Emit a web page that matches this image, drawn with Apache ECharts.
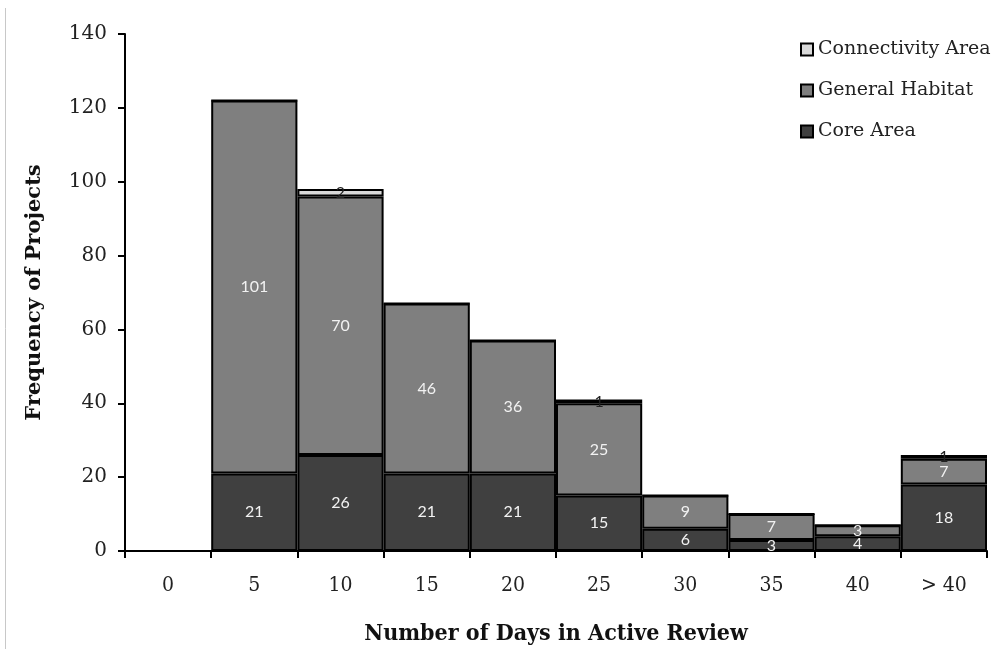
<!DOCTYPE html>
<html>
<head>
<meta charset="utf-8">
<script src="https://cdn.jsdelivr.net/npm/echarts@6/dist/echarts.min.js"></script>
<style>html,body{margin:0;padding:0;background:#fff;}#chart{width:997px;height:649px;}</style>
</head>
<body>
<div id="chart"></div>
<script>
const categories = ['0','5','10','15','20','25','30','35','40','> 40'];
const coreArea = [0,21,26,21,21,15,6,3,4,18];
const generalHabitat = [0,101,70,46,36,25,9,7,3,7];
const connectivityArea = [0,0,2,0,0,1,0,0,0,1];
const yTicks = [0,20,40,60,80,100,120,140];

const serif = '"DejaVu Serif", "Liberation Serif", serif';
const condensed = '"DejaVu Serif Condensed", "Liberation Serif", serif';
const labelFont = 'Lato, "Open Sans", sans-serif';

function mkSeries(name, data, color, labelColor) {
  return {
    name: name,
    type: 'bar',
    stack: 'total',
    data: data,
    barCategoryGap: '0%',
    itemStyle: { color: color, borderColor: '#000', borderWidth: 2 },
    label: {
      show: true,
      position: 'inside',
      color: labelColor,
      fontFamily: labelFont,
      fontSize: 16,
      formatter: p => (p.value > 0 ? String(p.value) : '')
    },
    emphasis: { disabled: true }
  };
}

const chart = echarts.init(document.getElementById('chart'), null, { renderer: 'canvas' });
chart.setOption({
  animation: false,
  backgroundColor: '#fff',
  grid: { left: 125, right: 10, top: 34, bottom: 98, containLabel: false, outerBoundsMode: 'none' },
  legend: {
    data: ['Connectivity Area', 'General Habitat', 'Core Area'],
    orient: 'vertical',
    left: 795,
    top: 35,
    itemGap: 22,
    itemWidth: 12,
    itemHeight: 12,
    icon: 'rect',
    textStyle: { fontFamily: serif, fontSize: 19, color: '#222' }
  },
  xAxis: {
    type: 'category',
    data: categories,
    boundaryGap: true,
    name: 'Number of Days in Active Review',
    nameLocation: 'middle',
    nameGap: 72,
    nameTextStyle: { fontFamily: condensed, fontWeight: 'bold', fontSize: 23, color: '#111' },
    axisLine: { lineStyle: { color: '#000', width: 2 } },
    axisTick: { show: true, alignWithLabel: false, length: 7, lineStyle: { color: '#000', width: 2 } },
    axisLabel: { fontFamily: condensed, fontSize: 21, color: '#222', margin: 24 }
  },
  yAxis: {
    type: 'value',
    min: 0,
    max: 140,
    interval: 20,
    name: 'Frequency of Projects',
    nameLocation: 'middle',
    nameGap: 80,
    nameRotate: 90,
    nameTextStyle: { fontFamily: serif, fontWeight: 'bold', fontSize: 21, color: '#111' },
    axisLine: { show: true, lineStyle: { color: '#000', width: 2 } },
    axisTick: { show: true, length: 7, lineStyle: { color: '#000', width: 2 } },
    splitLine: { show: false },
    axisLabel: { fontFamily: serif, fontSize: 20, color: '#222', margin: 18,
      formatter: v => (yTicks.indexOf(v) >= 0 ? String(v) : '') }
  },
  series: [
    mkSeries('Core Area', coreArea, '#404040', '#f2f2f2'),
    mkSeries('General Habitat', generalHabitat, '#7f7f7f', '#f2f2f2'),
    mkSeries('Connectivity Area', connectivityArea, '#d9d9d9', '#222')
  ],
  graphic: [{
    type: 'line',
    shape: { x1: 5.5, y1: 8, x2: 5.5, y2: 649 },
    style: { stroke: '#c8c8c8', lineWidth: 1 },
    silent: true
  }]
});
</script>
</body>
</html>
